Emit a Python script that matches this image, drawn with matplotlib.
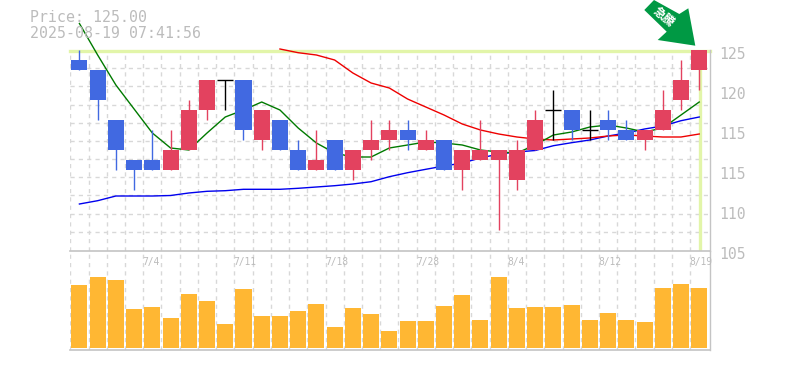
import numpy as np
import matplotlib
matplotlib.use("Agg")
import matplotlib.pyplot as plt
from matplotlib.patches import Polygon

# candles, one per session (price in yen)
opens = [124, 123, 118, 114, 114, 113, 115, 119, 122, 122, 116, 118, 115, 113, 116, 113, 115, 116,
         117, 115, 116, 113, 114, 114, 112, 115, 119, 119, 117, 118, 117, 116, 117, 120, 123]
closes = [123, 120, 115, 113, 113, 115, 119, 122, 122, 117, 119, 115, 113, 114, 113, 115, 116, 117,
          116, 116, 113, 115, 115, 115, 115, 118, 119, 117, 117, 117, 116, 117, 119, 122, 125]
highs = [125, 123, 118, 114, 117, 117, 120, 122, 122, 122, 119, 118, 116, 117, 116, 115, 118, 118,
         118, 117, 116, 115, 118, 115, 116, 119, 121, 119, 119, 119, 118, 117, 121, 124, 125]
lows = [123, 118, 113, 111, 113, 113, 115, 118, 119, 116, 115, 115, 113, 113, 113, 112, 114, 115,
        115, 115, 113, 111, 114, 107, 111, 115, 116, 116, 116, 116, 116, 115, 117, 119, 121]

# moving averages
ma_short = [127.65, 124.5, 121.5, 119.1, 116.7, 115.2, 115.0, 116.7, 118.3, 119.0, 119.8, 119.0,
            117.2, 115.7, 114.7, 114.3, 114.3, 115.2, 115.5, 115.8, 115.7, 115.5, 115.0, 114.8,
            114.7, 115.5, 116.5, 116.8, 117.3, 117.5, 117.2, 116.8, 117.2, 118.5, 119.8]
ma_mid = [np.nan] * 11 + [125.1, 124.73, 124.5, 124.0, 122.7, 121.7, 121.2, 120.1, 119.3, 118.5,
                          117.6, 117.0, 116.6, 116.3, 116.1, 116.0, 116.1, 116.2, 116.4, 116.5,
                          116.4, 116.3, 116.3, 116.6]
ma_long = [109.6, 109.93, 110.4, 110.4, 110.4, 110.45, 110.7, 110.87, 110.93, 111.07, 111.07, 111.07,
           111.17, 111.3, 111.43, 111.6, 111.83, 112.33, 112.73, 113.07, 113.4, 113.7, 114.2, 114.6,
           114.8, 114.95, 115.43, 115.73, 116.0, 116.4, 116.7, 117.1, 117.4, 117.93, 118.3]

volumes = [62.7, 70.7, 67.7, 38.7, 40.7, 29.7, 53.7, 46.7, 23.7, 58.7, 31.7, 31.7, 36.7, 43.7, 20.7,
           39.7, 33.7, 16.7, 26.7, 26.7, 41.7, 52.7, 27.7, 70.7, 39.7, 40.7, 40.7, 42.7, 27.7, 34.7,
           27.7, 25.7, 59.7, 63.7, 59.7]

date_idx = [4, 9, 14, 19, 24, 29, 34]
date_labels = ["7/4", "7/11", "7/18", "7/28", "8/4", "8/12", "8/19"]
price_ticks = [125, 121, 117, 113, 109, 105]
price_labels = ["125", "120", "115", "115", "110", "105"]

RED = "#E3425F"
BLUE = "#4169E1"
ORANGE = "#FFB733"
LIME = "#E2F5A9"
GRID = "#D8D8D8"
AXIS = "#C4C4C4"
TEXT = "#BCBCBC"
W, H = 785, 370
MONO = "DejaVu Sans Mono"

fig = plt.figure(figsize=(W / 100, H / 100), dpi=100)
x0, x1 = 70.3, 710
ax = fig.add_axes([x0 / W, 1 - 250.5 / H, (x1 - x0) / W, 200.5 / H])
vol = fig.add_axes([x0 / W, 1 - 350 / H, (x1 - x0) / W, 99.5 / H])

xs = np.arange(len(opens))
step = 18.23
xlim = (-0.5, -0.5 + (x1 - x0) / step)
for a in (ax, vol):
    a.set_xlim(xlim)
    a.set_xticks(xs - 0.5)
    a.set_yticks([])
    a.tick_params(length=0, labelbottom=False)
    a.grid(True, axis="x", color=GRID, lw=1, ls=(0, (3, 3)))
    a.set_axisbelow(True)
    for s in a.spines.values():
        s.set_visible(False)
    a.spines["right"].set_visible(True)
    a.spines["right"].set_color(AXIS)
    a.spines["right"].set_linewidth(1)
    a.spines["bottom"].set_visible(True)
    a.spines["bottom"].set_color(AXIS)
    a.spines["bottom"].set_linewidth(1.2)
    a.patch.set_alpha(0)

ax.set_ylim(104.95, 125)
for k in range(1, 11):
    ax.axhline(125 - k * 20 / 11, color=GRID, lw=1, ls=(0, (3, 3)), zorder=0)

# latest price marker
ax.axhline(closes[-1] - 0.05, color=LIME, lw=2.4, zorder=1, clip_on=False)
ax.axvline(xs[-1] + 0.03, color=LIME, lw=2.4, zorder=1)

ax.plot(xs, ma_long, color="#0000EE", lw=1, zorder=2, clip_on=False)
ax.plot(xs, ma_mid, color="#EE0000", lw=1, zorder=2, clip_on=False)
ax.plot(xs, ma_short, color="#007A00", lw=1, zorder=2, clip_on=False)

for i in xs:
    o, c = opens[i], closes[i]
    if o == c:
        ax.vlines(i, lows[i], highs[i], color="black", lw=1, zorder=4)
        ax.hlines(c, i - 0.44, i + 0.44, color="black", lw=1, zorder=4)
        continue
    color = RED if c > o else BLUE
    ax.vlines(i, lows[i], highs[i], color=color, lw=1, zorder=3)
    ax.bar(i, abs(c - o), bottom=min(o, c), width=0.88, color=color, zorder=4)

vol.bar(xs, volumes, width=0.88, color=ORANGE, zorder=3)
vol.set_ylim(-2.3, 97.2)

for i, lab in zip(date_idx, date_labels):
    vol.annotate(lab, xy=(i - 0.5, 1), xycoords=("data", "axes fraction"), xytext=(-0.5, -8),
                 textcoords="offset points", ha="left", va="center", color=TEXT,
                 family=MONO, fontsize=6.9, annotation_clip=False)
for p, lab in zip(price_ticks, price_labels):
    ax.annotate(lab, xy=(1, p), xycoords=("axes fraction", "data"),
                xytext=(6.5, -3), textcoords="offset points", ha="left", va="center",
                color=TEXT, family=MONO, fontsize=10.6, annotation_clip=False)

fig.text(30 / W, 1 - 18 / H, "Price: 125.00", color=TEXT, family=MONO, fontsize=10.7, va="center")
fig.text(30 / W, 1 - 33 / H, "2025-08-19 07:41:56", color=TEXT, family=MONO, fontsize=10.7, va="center")

# green badge arrow, in pixels from the top left
arrow_px = [(644.3, 10), (654, 0), (679.3, 14), (688.3, 8.3), (695.3, 45.7), (657.7, 40), (666.7, 31.7)]
arrow = Polygon([(px / W, 1 - py / H) for px, py in arrow_px], closed=True, transform=fig.transFigure,
                facecolor="#009944", edgecolor="none", zorder=10)
fig.add_artist(arrow)
fig.text(664 / W, 1 - 17 / H, "急騰", color="white", fontsize=8.5, rotation=-40, ha="center", va="center",
         family=["Noto Sans CJK JP", "DejaVu Sans"], fontweight="bold", zorder=11)

fig.savefig("out.png", dpi=100)
